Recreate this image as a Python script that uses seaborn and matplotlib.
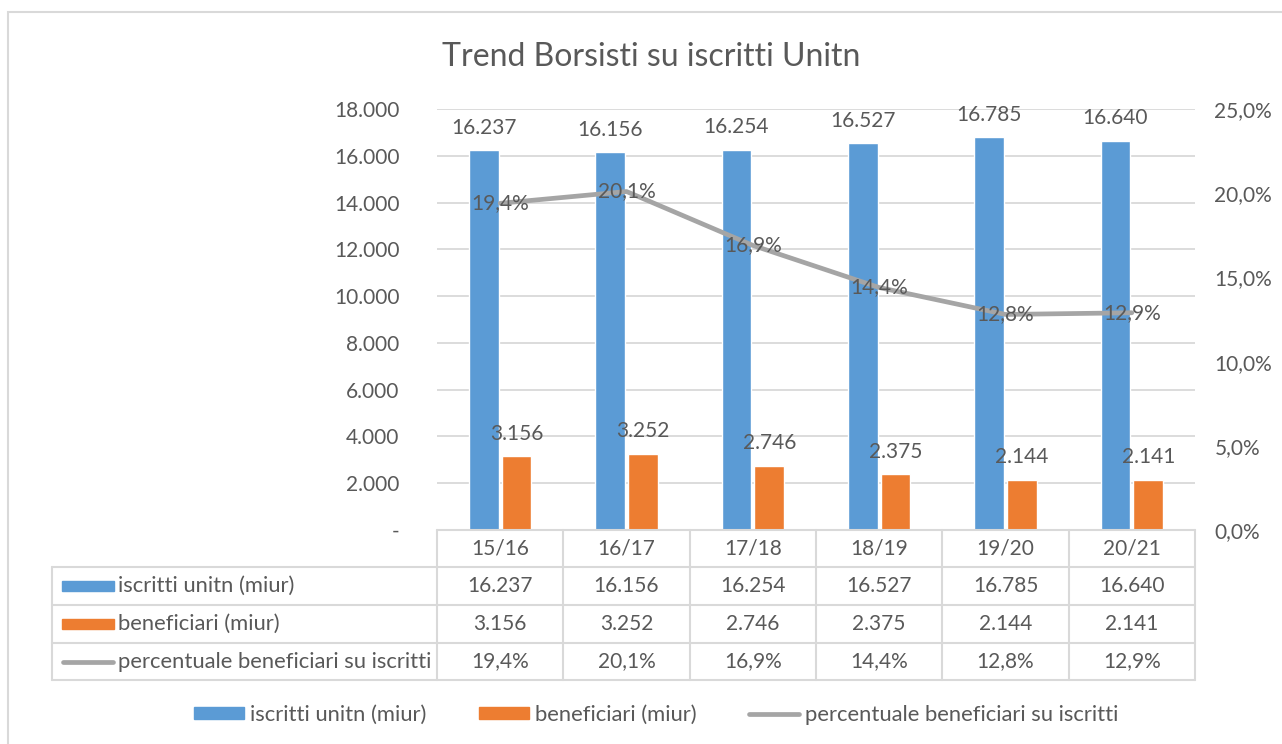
import numpy as np
import pandas as pd
import matplotlib
matplotlib.use("Agg")
import matplotlib.pyplot as plt
import matplotlib.transforms as mtransforms
from matplotlib.lines import Line2D
from matplotlib.patches import Rectangle, Patch
import seaborn as sns

# data
years = ["15/16", "16/17", "17/18", "18/19", "19/20", "20/21"]
iscritti = [16237, 16156, 16254, 16527, 16785, 16640]
beneficiari = [3156, 3252, 2746, 2375, 2144, 2141]
percentuale = [19.4, 20.1, 16.9, 14.4, 12.8, 12.9]

series_names = [
    "iscritti unitn (miur)",
    "beneficiari (miur)",
    "percentuale beneficiari su iscritti",
]
colors = ["#5B9BD5", "#ED7D31", "#A5A5A5"]
title = "Trend Borsisti su iscritti Unitn"

TEXT = "#595959"
GRID = "#D9D9D9"
FS = 15


def fmt_int(v):
    if v == 0:
        return "-"
    return f"{v:,.0f}".replace(",", ".")


def fmt_pct(v):
    return f"{v:.1f}%".replace(".", ",")


sns.set_style("white")
plt.rcParams["font.family"] = ["Lato", "DejaVu Sans"]

W, H = 1282, 744
fig = plt.figure(figsize=(W / 100, H / 100), dpi=100)


def fx(px):
    return px / W


def fy(py):
    return 1 - py / H


ax = fig.add_axes([fx(437), fy(530), fx(1195) - fx(437), fy(109) - fy(530)])

df = pd.DataFrame({
    "anno": years * 2,
    "valore": iscritti + beneficiari,
    "serie": [series_names[0]] * len(years) + [series_names[1]] * len(years),
})
sns.barplot(data=df, x="anno", y="valore", hue="serie", palette=colors[:2],
            width=0.52, gap=0.1, saturation=1, legend=False, ax=ax)

ax.set_xlim(-0.5, len(years) - 0.5)
ax.set_ylim(0, 18000)
yt = np.arange(0, 18001, 2000)
ax.set_yticks(yt)
ax.set_yticklabels([fmt_int(v) for v in yt])
ax.set_xticks([])
ax.set_xlabel("")
ax.set_ylabel("")
ax.grid(axis="y", color=GRID, linewidth=1.3)
ax.set_axisbelow(True)
for s in ax.spines.values():
    s.set_visible(False)
ax.tick_params(axis="y", length=0, pad=27, labelsize=FS, labelcolor=TEXT)

for container, vals in zip(ax.containers, [iscritti, beneficiari]):
    ax.bar_label(container, labels=[fmt_int(v) for v in vals], padding=9,
                 fontsize=FS, color=TEXT)

ax2 = ax.twinx()
pos = np.arange(len(years))
sns.lineplot(x=pos, y=percentuale, color=colors[2], linewidth=3.4, ax=ax2,
             solid_capstyle="round", solid_joinstyle="round")
ax2.set_ylim(0, 25)
ax2.set_yticks(np.arange(0, 26, 5))
ax2.set_yticklabels([fmt_pct(v) for v in np.arange(0, 26, 5)])
ax2.set_ylabel("")
for s in ax2.spines.values():
    s.set_visible(False)
ax2.tick_params(axis="y", length=0, pad=14, labelsize=FS, labelcolor=TEXT)
for x, v in zip(pos, percentuale):
    ax2.text(x, v, fmt_pct(v), ha="center", va="center", fontsize=FS, color=TEXT)

# title
fig.text(fx(651), fy(57), title, ha="center", va="center", fontsize=23, color=TEXT)

# data table
bt = mtransforms.blended_transform_factory(ax.transData, fig.transFigure)
row_y = [530, 567, 605, 643, 680]
left_px = 52
for i, yy in enumerate(row_y):
    x0 = 437 if i == 0 else left_px
    fig.add_artist(Line2D([fx(x0), fx(1195)], [fy(yy), fy(yy)],
                          transform=fig.transFigure, color=GRID, lw=1.5))
for b in np.arange(len(years) + 1) - 0.5:
    fig.add_artist(Line2D([b, b], [fy(530), fy(680)], transform=bt,
                          color=GRID, lw=1.5))
fig.add_artist(Line2D([fx(left_px), fx(left_px)], [fy(567), fy(680)],
                      transform=fig.transFigure, color=GRID, lw=1.5))

centers = [(row_y[k] + row_y[k + 1]) / 2 for k in range(4)]
rows = [
    years,
    [fmt_int(v) for v in iscritti],
    [fmt_int(v) for v in beneficiari],
    [fmt_pct(v) for v in percentuale],
]
for yc, row in zip(centers, rows):
    for x, t in zip(pos, row):
        fig.text(x, fy(yc), t, transform=bt, ha="center", va="center",
                 fontsize=FS, color=TEXT)

for k, name in enumerate(series_names):
    yc = centers[k + 1]
    if k < 2:
        fig.add_artist(Rectangle((fx(62), fy(yc + 5)), fx(114) - fx(62),
                                 fy(yc - 5) - fy(yc + 5),
                                 transform=fig.transFigure, color=colors[k]))
    else:
        fig.add_artist(Line2D([fx(63), fx(113)], [fy(yc), fy(yc)],
                              transform=fig.transFigure, color=colors[k],
                              lw=3.4, solid_capstyle="round"))
    fig.text(fx(118), fy(yc), name, ha="left", va="center", fontsize=15.8,
             color=TEXT)

# legend
handles = [
    Patch(color=colors[0]),
    Patch(color=colors[1]),
    Line2D([], [], color=colors[2], lw=3.4, solid_capstyle="round"),
]
fig.legend(handles, series_names, loc="center", bbox_to_anchor=(fx(656), fy(715)),
           ncol=3, frameon=False, fontsize=15.8, labelcolor=TEXT,
           handlelength=2.3, handleheight=0.48, handletextpad=0.25,
           columnspacing=2.4)

# chart frame
fig.add_artist(Rectangle((fx(8), fy(790)), fx(1330) - fx(8), fy(12) - fy(790),
                         transform=fig.transFigure, fill=False,
                         edgecolor=GRID, lw=1.5))

fig.savefig("out.png", dpi=100)
